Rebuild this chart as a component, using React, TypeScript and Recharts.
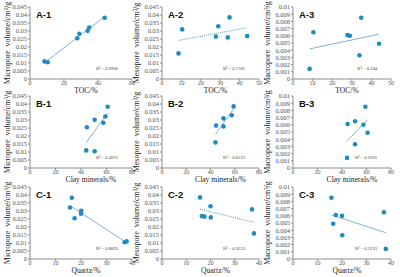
import React from 'react';
import { ScatterChart, Scatter, XAxis, YAxis, ReferenceLine } from 'recharts';

// seven samples
const toc = [8.5, 10.4, 27.8, 29.0, 33.9, 34.8, 43.9];
const clay = [44.1, 50.7, 44.6, 57.5, 50.7, 59.1, 60.9];
const quartz = [37.9, 37.1, 17.5, 20.0, 20.1, 15.7, 16.4];
const micro = [0.011, 0.0105, 0.0255, 0.0283, 0.0301, 0.0322, 0.0383];
const meso = [0.016, 0.031, 0.0265, 0.033, 0.026, 0.0385, 0.0268];
const macro = [0.0014, 0.0065, 0.0061, 0.006, 0.0033, 0.0085, 0.0049];

const poreTicks = [0, 0.005, 0.01, 0.015, 0.02, 0.025, 0.03, 0.035, 0.04, 0.045];
const macroTicks = [0, 0.001, 0.002, 0.003, 0.004, 0.005, 0.006, 0.007, 0.008, 0.009, 0.01];
const tocTicksWide = [0, 20, 40, 60];
const tocTicks = [0, 10, 20, 30, 40, 50];
const clayTicks = [0, 20, 40, 60, 80];
const quartzTicks = [0, 10, 20, 30, 40];

const yTitles = ['Micropore  volume/cm³/g', 'Mesopore  volume/cm³/g', 'Macropore  volume/cm³/g'];
const xTitles = ['TOC/%', 'Clay minerals/%', 'Quartz/%'];
const panelNames = [['A-1', 'A-2', 'A-3'], ['B-1', 'B-2', 'B-3'], ['C-1', 'C-2', 'C-3']];
const r2 = [['0.9906', '0.1701', '0.104'], ['0.4931', '0.8123', '0.2666'], ['0.8893', '0.2633', '0.2193']];

const xs = [toc, clay, quartz];
const ys = [micro, meso, macro];
const xTickSets = [[tocTicksWide, tocTicks, tocTicks], [clayTicks, clayTicks, clayTicks], [quartzTicks, quartzTicks, quartzTicks]];
const yTickSets = [poreTicks, poreTicks, macroTicks];
const dotted = [[false, true, false], [false, false, false], [false, true, false]];
// B-2 leaves out the last sample
const skipped = [[[], [], []], [[], [6], []], [[], [], []]];

const cols = [{ l: 30, r: 132, yl: 7 }, { l: 162, r: 259, yl: 136 }, { l: 293, r: 391, yl: 267 }];
const rows = [{ t: 7, b: 79, dx: 5 }, { t: 96, b: 168, dx: 10 }, { t: 187, b: 259, dx: 5 }];

const SERIF = '"Liberation Serif", "Times New Roman", serif';
const SANS = '"Liberation Sans", Arial, sans-serif';
const DOT = '#1f8bbf';
const TREND = '#6fa9d2';
const AXIS = '#8c8c8c';

type Pt = { x: number; y: number };

// least squares trend line across the x range, like the spreadsheet trendline
function trend(pts: Pt[]) {
  const n = pts.length;
  const mx = pts.reduce((s, p) => s + p.x, 0) / n;
  const my = pts.reduce((s, p) => s + p.y, 0) / n;
  let sxy = 0;
  let sxx = 0;
  pts.forEach((p) => {
    sxy += (p.x - mx) * (p.y - my);
    sxx += (p.x - mx) * (p.x - mx);
  });
  const k = sxy / sxx;
  const x0 = Math.min(...pts.map((p) => p.x));
  const x1 = Math.max(...pts.map((p) => p.x));
  return [
    { x: x0, y: my + k * (x0 - mx) },
    { x: x1, y: my + k * (x1 - mx) },
  ];
}

const Dot = (props: any) => <circle cx={props.cx} cy={props.cy} r={2.3} fill={DOT} />;

const Panel = ({ ri, ci }: { ri: number; ci: number }) => {
  const c = cols[ci];
  const r = rows[ri];
  const left = c.l - 30;
  const top = r.t - 5;
  const w = c.r - left + 4;
  const h = r.b - top + 10;
  const xt = xTickSets[ri][ci];
  const yt = yTickSets[ci];
  const pts = xs[ri]
    .map((x, i) => ({ x, y: ys[ci][i] }))
    .filter((_, i) => !skipped[ri][ci].includes(i));
  const seg = trend(pts);
  const tick = { fontSize: 6, fill: '#555', fontFamily: SERIF };

  return (
    <div style={{ position: 'absolute', left, top, width: w, height: h }}>
      <ScatterChart width={w} height={h} margin={{ top: 5, right: 4, bottom: 0, left: 0 }}>
        <XAxis
          type="number"
          dataKey="x"
          domain={[xt[0], xt[xt.length - 1]]}
          ticks={xt}
          interval={0}
          height={10}
          tickSize={2}
          tickMargin={-0.3}
          tick={tick}
          stroke={AXIS}
        />
        <YAxis
          type="number"
          dataKey="y"
          domain={[yt[0], yt[yt.length - 1]]}
          ticks={yt}
          interval={0}
          width={30}
          tickSize={2}
          tickMargin={1}
          tick={{ ...tick, fontSize: 6.5 }}
          stroke={AXIS}
        />
        <ReferenceLine
          segment={seg}
          stroke={TREND}
          strokeWidth={dotted[ri][ci] ? 1.2 : 0.9}
          strokeDasharray={dotted[ri][ci] ? '1 1' : undefined}
          ifOverflow="visible"
        />
        <Scatter data={pts} shape={Dot} isAnimationActive={false} />
      </ScatterChart>
    </div>
  );
};

export default function App() {
  const cells: [number, number][] = [];
  rows.forEach((_, ri) => cols.forEach((_, ci) => cells.push([ri, ci])));

  return (
    <div style={{ position: 'absolute', left: 0, top: 0, width: 400, height: 277, background: '#fff' }}>
      {cells.map(([ri, ci]) => (
        <Panel key={`${ri}-${ci}`} ri={ri} ci={ci} />
      ))}
      <svg width={400} height={277} style={{ position: 'absolute', left: 0, top: 0, pointerEvents: 'none' }}>
        {cells.map(([ri, ci]) => {
          const c = cols[ci];
          const r = rows[ri];
          const mid = (c.l + c.r) / 2;
          return (
            <g key={`t${ri}-${ci}`}>
              <text x={c.l + 6} y={r.t + 11} fontFamily={SANS} fontWeight="bold" fontSize={9.5} fill="#111">
                {panelNames[ri][ci]}
              </text>
              <text x={c.r - 14} y={r.b - 9} textAnchor="end" fontFamily={SERIF} fontSize={4.6} fill="#444">
                R² = {r2[ri][ci]}
              </text>
              <text x={mid + r.dx} y={r.b + 14.3} textAnchor="middle" fontFamily={SERIF} fontSize={7.6} fill="#222">
                {xTitles[ri]}
              </text>
              <text
                transform={`translate(${c.yl},${(r.t + r.b) / 2}) rotate(-90)`}
                textAnchor="middle"
                dominantBaseline="central"
                fontFamily={SERIF}
                fontSize={8}
                fill="#222"
                style={{ whiteSpace: 'pre' }}
              >
                {yTitles[ci]}
              </text>
            </g>
          );
        })}
      </svg>
    </div>
  );
}
